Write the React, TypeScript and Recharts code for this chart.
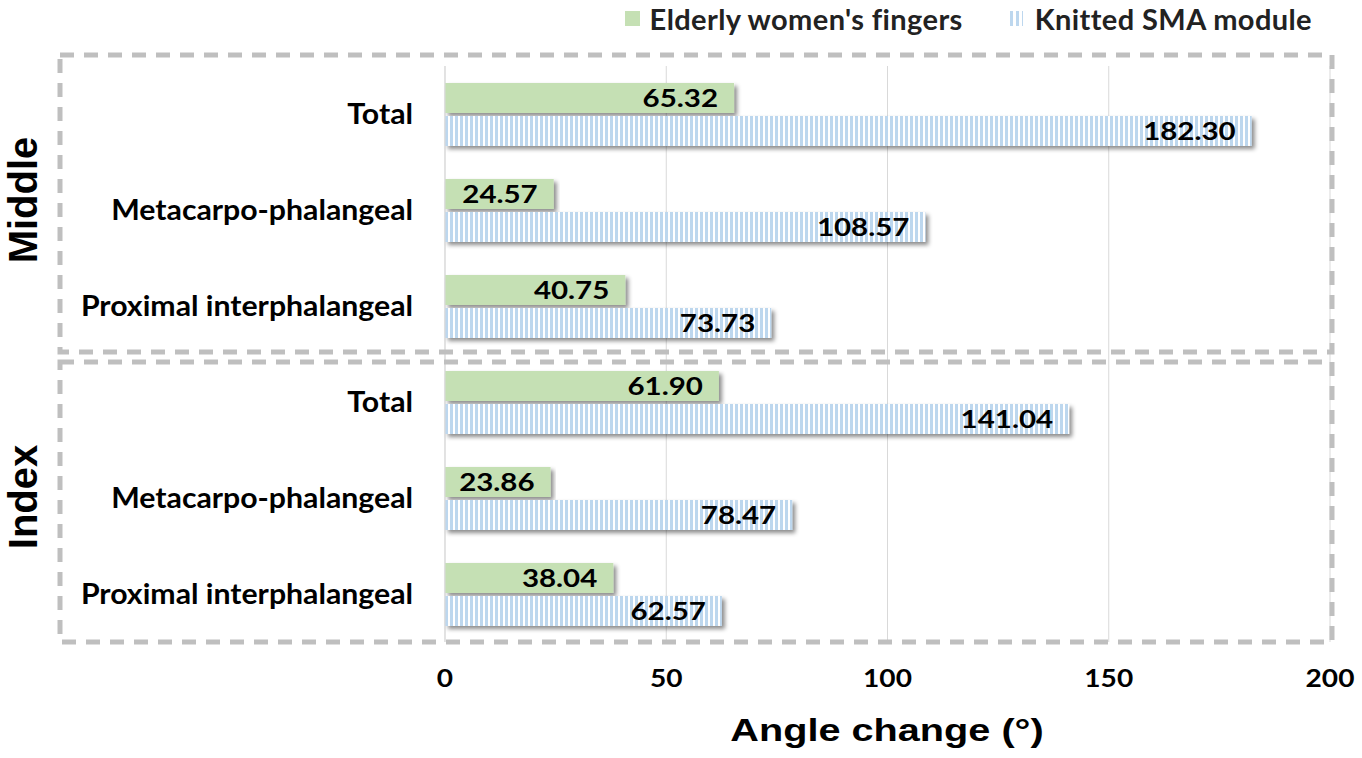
import { BarChart, Bar, XAxis, YAxis, CartesianGrid, LabelList } from "recharts"

// categories top to bottom
const groups = ["Middle", "Middle", "Middle", "Index", "Index", "Index"]
const joints = [
  "Total",
  "Metacarpo-phalangeal",
  "Proximal interphalangeal",
  "Total",
  "Metacarpo-phalangeal",
  "Proximal interphalangeal",
]
const elderly = [65.32, 24.57, 40.75, 61.9, 23.86, 38.04]
const knitted = [182.3, 108.57, 73.73, 141.04, 78.47, 62.57]
const seriesNames = ["Elderly women's fingers", "Knitted SMA module"]
const groupNames = ["Middle", "Index"]
const xTicks = [0, 50, 100, 150, 200]

const data = joints.map((j, i) => ({
  id: `${groups[i]}-${i}`,
  joint: j,
  elderly: elderly[i],
  knitted: knitted[i],
}))

const GREEN = "#c5e0b4"
const BLUE = "#bdd7ee"
const LABEL_FONT = "Lato, 'Open Sans', sans-serif"
const ARIAL = "'Liberation Sans', Arial, sans-serif"

const ShadowRect = (props: any) => {
  const { x, y, width, height, fill } = props
  if (!width || width <= 0) return null
  return <rect x={x} y={y} width={width} height={height} fill={fill} filter="url(#barShadow)" />
}

// the original text is stretched sideways, so scale it a little in x
const YTick = ({ x, y, payload, index }: any) => (
  <text
    transform={`translate(${x},${y}) scale(1.08,1)`}
    textAnchor="end"
    dy="0.36em"
    fontFamily={LABEL_FONT}
    fontWeight={700}
    fontSize={28}
    fill="#000"
  >
    {joints[index] ?? payload.value}
  </text>
)

const XTick = ({ x, y, payload }: any) => (
  <text
    transform={`translate(${x},${y}) scale(1.17,1)`}
    textAnchor="middle"
    dy="0.71em"
    fontFamily={LABEL_FONT}
    fontWeight={700}
    fontSize={24}
    fill="#000"
  >
    {payload.value}
  </text>
)

const ValueLabel = (props: any) => {
  const { x, y, width, height, value } = props
  const tx = Number(x) + Number(width) - 16
  const ty = Number(y) + Number(height) / 2
  return (
    <text
      transform={`translate(${tx},${ty}) scale(1.18,1)`}
      textAnchor="end"
      dy="0.36em"
      fontFamily={LABEL_FONT}
      fontWeight={700}
      fontSize={25}
      fill="#000"
    >
      {Number(value).toFixed(2)}
    </text>
  )
}

export default function App() {
  return (
    <div style={{ position: "absolute", left: 0, top: 0, width: 1362, height: 758, background: "#fff" }}>
      <BarChart
        width={1362}
        height={758}
        data={data}
        layout="vertical"
        margin={{ top: 66, right: 32, bottom: 56, left: 0 }}
        barGap={3}
        barSize={30}
      >
        <defs>
          <pattern id="stripes" width="5" height="10" patternUnits="userSpaceOnUse">
            <rect x="0" y="0" width="5" height="10" fill="#ffffff" />
            <rect x="0" y="0" width="3" height="10" fill={BLUE} />
          </pattern>
          <filter id="barShadow" x="-5%" y="-30%" width="110%" height="180%">
            <feDropShadow dx="3" dy="3" stdDeviation="2" floodColor="#000" floodOpacity="0.45" />
          </filter>
        </defs>
        <CartesianGrid horizontal={false} stroke="#d9d9d9" />
        <XAxis
          type="number"
          domain={[0, 200]}
          ticks={xTicks}
          axisLine={false}
          tickLine={false}
          tickMargin={22}
          height={60}
          tick={<XTick />}
        />
        <YAxis
          type="category"
          dataKey="id"
          width={445}
          axisLine={{ stroke: "#d9d9d9" }}
          tickLine={false}
          tickMargin={26}
          tick={<YTick />}
        />
        <Bar dataKey="elderly" name={seriesNames[0]} fill={GREEN} shape={ShadowRect} isAnimationActive={false}>
          <LabelList dataKey="elderly" content={<ValueLabel />} />
        </Bar>
        <Bar dataKey="knitted" name={seriesNames[1]} fill="url(#stripes)" shape={ShadowRect} isAnimationActive={false}>
          <LabelList dataKey="knitted" content={<ValueLabel />} />
        </Bar>
      </BarChart>

      {/* group boxes, group titles, axis title */}
      <svg width={1362} height={758} style={{ position: "absolute", left: 0, top: 0, pointerEvents: "none" }}>
        <rect x={60} y={55} width={1272} height={297} fill="none" stroke="#bfbfbf" strokeWidth={5} strokeDasharray="14 10" />
        <rect x={60} y={362} width={1272} height={280} fill="none" stroke="#bfbfbf" strokeWidth={5} strokeDasharray="14 10" />
        <text
          transform="translate(23,200) rotate(-90)"
          textAnchor="middle"
          dominantBaseline="central"
          style={{ fontSize: 40, fontWeight: 700, fontFamily: ARIAL }}
        >
          {groupNames[0]}
        </text>
        <text
          transform="translate(23,497) rotate(-90)"
          textAnchor="middle"
          dominantBaseline="central"
          style={{ fontSize: 40, fontWeight: 700, fontFamily: ARIAL }}
        >
          {groupNames[1]}
        </text>
        <text
          transform="translate(887,741) scale(1.28,1)"
          textAnchor="middle"
          style={{ fontSize: 31, fontWeight: 700, fontFamily: ARIAL }}
        >
          Angle change (°)
        </text>
      </svg>

      {/* legend */}
      <div
        style={{
          position: "absolute",
          top: 1,
          right: 50,
          display: "flex",
          alignItems: "center",
          fontFamily: LABEL_FONT,
          fontWeight: 700,
          fontSize: 29,
          letterSpacing: 0.4,
          color: "#222",
        }}
      >
        <span style={{ display: "inline-block", width: 15, height: 15, background: GREEN, marginRight: 10 }} />
        <span style={{ marginRight: 46 }}>{seriesNames[0]}</span>
        <svg width={14} height={15} style={{ marginRight: 12 }}>
          <rect x={0} y={0} width={14} height={15} fill="url(#legendStripes)" />
          <defs>
            <pattern id="legendStripes" width="6" height="15" patternUnits="userSpaceOnUse">
              <rect x="1" y="0" width="3" height="15" fill={BLUE} />
            </pattern>
          </defs>
        </svg>
        <span>{seriesNames[1]}</span>
      </div>
    </div>
  )
}
